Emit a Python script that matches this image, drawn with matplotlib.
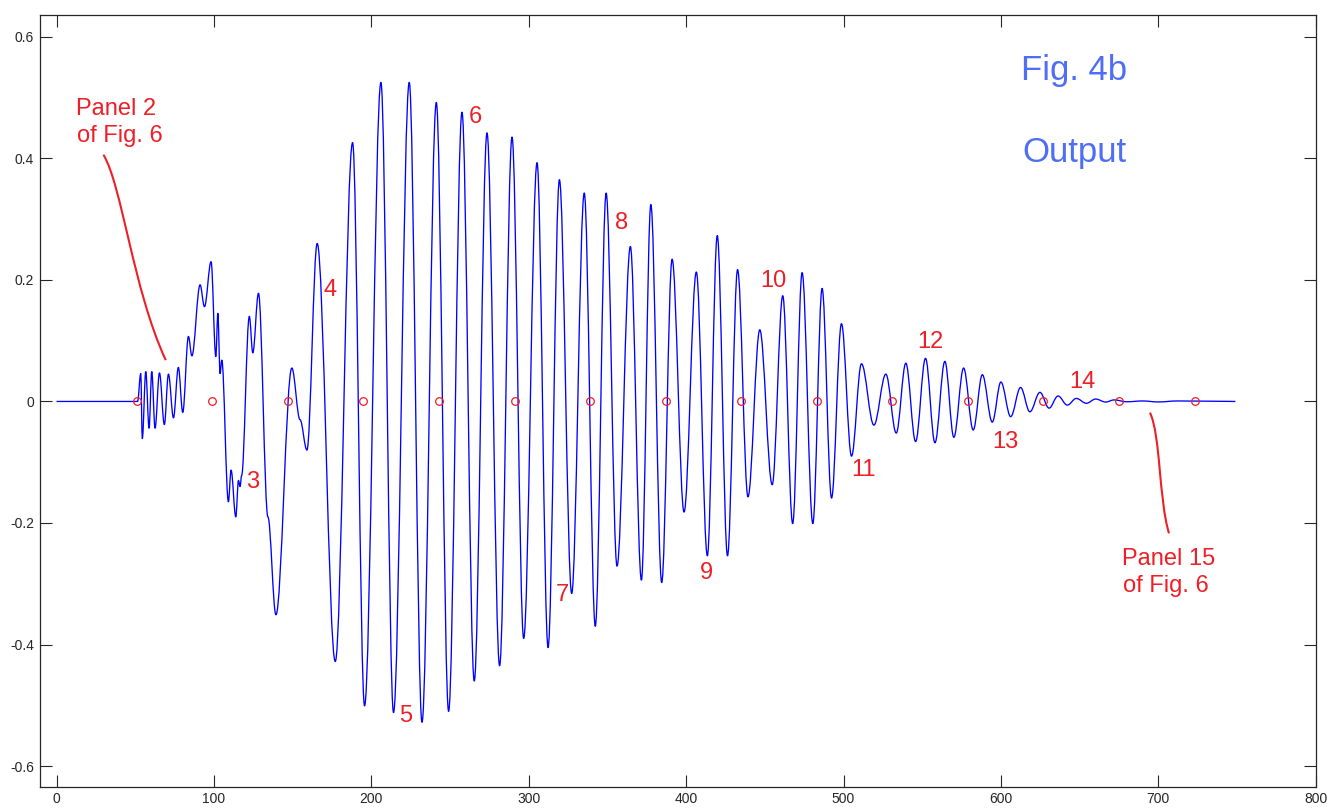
import matplotlib
matplotlib.use("Agg")
import matplotlib.pyplot as plt
from matplotlib.path import Path
from matplotlib.patches import PathPatch

plt.rcParams['font.family'] = ['Liberation Sans', 'DejaVu Sans']

# ---------------- data (turning points of the trace) ----------------
wave_x = [0, 51.5, 53.5, 54.5, 56.7, 58.8, 60.5, 62.6, 65.4, 68.5, 71.1, 74.3, 77.4, 80.2,
          83.8, 86.0, 91.2, 94.0, 98.2, 101.2, 102.5, 103.9, 105.0, 109.2, 110.9, 113.9,
          115.6, 116.6, 117.6, 122.5, 124.7, 128.3, 134.3, 139.4, 149.5, 154.7, 159.1,
          165.6, 177.1, 188.1, 195.7, 206.1, 214.1, 224.1, 232.2, 241.3, 249.1, 257.6,
          265.4, 273.5, 281.5, 289.4, 296.8, 305.3, 312.3, 319.5, 327.3, 335.3, 342.3,
          349.2, 356.1, 364.6, 371.6, 377.6, 384.5, 391.1, 398.7, 406.5, 413.5, 419.8,
          426.3, 432.7, 439.3, 446.8, 454.7, 461.4, 467.7, 473.7, 480.5, 486.4, 492.4,
          498.7, 505.1, 511.4, 519.3, 526.9, 533.5, 539.6, 545.8, 552.1, 558.1, 564.4,
          570.1, 576.3, 582.4, 588.2, 594.5, 600.0, 606.2, 612.5, 618.4, 624.8, 630.6,
          636.3, 642.2, 647.9, 654.3, 660.2, 666.6, 671.8, 680.0, 690.0, 700.0, 712.0,
          730.0, 749.0]
wave_y = [0, 0, 0.046, -0.061, 0.049, -0.044, 0.049, -0.044, 0.047, -0.038, 0.045, -0.027,
          0.056, -0.018, 0.107, 0.075, 0.192, 0.156, 0.230, 0.074, 0.145, 0.046, 0.068,
          -0.165, -0.113, -0.190, -0.130, -0.140, -0.122, 0.140, 0.080, 0.178, -0.190,
          -0.351, 0.055, -0.030, -0.080, 0.260, -0.428, 0.426, -0.501, 0.525, -0.512,
          0.525, -0.528, 0.492, -0.510, 0.476, -0.460, 0.442, -0.435, 0.435, -0.390,
          0.393, -0.405, 0.365, -0.316, 0.343, -0.370, 0.343, -0.271, 0.255, -0.294,
          0.324, -0.298, 0.234, -0.182, 0.213, -0.254, 0.273, -0.254, 0.217, -0.157,
          0.118, -0.137, 0.174, -0.201, 0.212, -0.201, 0.186, -0.159, 0.128, -0.090,
          0.062, -0.039, 0.045, -0.052, 0.063, -0.066, 0.071, -0.068, 0.066, -0.059,
          0.055, -0.047, 0.044, -0.034, 0.032, -0.025, 0.023, -0.017, 0.015, -0.011,
          0.009, -0.006, 0.005, -0.003, 0.004, -0.001, 0.0025, -0.0005, 0.0008, -0.0008,
          0.0008, 0.0005, 0.0]

panel_x = [51, 99, 147, 195, 243, 291, 339, 387, 435, 483, 531, 579, 627, 675, 723]
panel_y = [0] * len(panel_x)

panel_numbers = ['3', '4', '5', '6', '7', '8', '9', '10', '11', '12', '13', '14']

xticks = [0, 100, 200, 300, 400, 500, 600, 700, 800]
yticks = [-0.6, -0.4, -0.2, 0, 0.2, 0.4, 0.6]
ytick_labels = ['-0.6', '-0.4', '-0.2', '0', '0.2', '0.4', '0.6']

# ---------------- layout ----------------
W, H = 1330, 809
fig = plt.figure(figsize=(W / 100, H / 100), dpi=100)
ax = fig.add_axes([40 / W, 1 - 787.3 / H, (1315.7 - 40) / W, (787.3 - 15) / H])

RED = '#ee1f26'
BLUE_TXT = '#4d6ef5'
AX_COL = '#262626'

# trace: drawn as a smooth curve through the turning points (horizontal tangents there)
K = 0.36
verts = [(wave_x[0], wave_y[0])]
codes = [Path.MOVETO]
for (x0, y0), (x1, y1) in zip(zip(wave_x[:-1], wave_y[:-1]), zip(wave_x[1:], wave_y[1:])):
    dx = x1 - x0
    verts += [(x0 + K * dx, y0), (x1 - K * dx, y1), (x1, y1)]
    codes += [Path.CURVE4] * 3
ax.add_patch(PathPatch(Path(verts, codes), facecolor='none', edgecolor='#0000ff',
                       lw=0.95, joinstyle='round', zorder=3))

ax.plot(panel_x, panel_y, linestyle='none', marker='o', markersize=5.5,
        markerfacecolor='none', markeredgecolor=RED, markeredgewidth=0.9, zorder=4)

ax.set_xlim(-10.5, 800)
ax.set_ylim(-0.635, 0.636)
ax.set_xticks(xticks)
ax.set_xticklabels([str(v) for v in xticks])
ax.set_yticks(yticks)
ax.set_yticklabels(ytick_labels)
ax.tick_params(axis='both', direction='in', length=8.6, width=0.8, colors=AX_COL,
               top=True, right=True, labelsize=10)
ax.tick_params(axis='x', pad=3.5)
ax.tick_params(axis='y', pad=4.3)
for s in ax.spines.values():
    s.set_color(AX_COL)
    s.set_linewidth(0.9)

# number labels (baseline anchored, centred)
label_pos = [(124.5, -0.143), (173.9, 0.174), (222.0, -0.527), (266.2, 0.458),
             (321.2, -0.329), (359.3, 0.283), (412.9, -0.293), (455.7, 0.189),
             (512.9, -0.122), (555.3, 0.0887), (603.0, -0.0759), (651.7, 0.0217)]
for txt, (lx, ly) in zip(panel_numbers, label_pos):
    ax.text(lx, ly, txt, color=RED, fontsize=17, ha='center', va='baseline', zorder=5)

ax.text(12.5, 0.4716, 'Panel 2', color=RED, fontsize=17, ha='left', va='baseline')
ax.text(13.0, 0.4277, 'of Fig. 6', color=RED, fontsize=17, ha='left', va='baseline')
ax.text(677.0, -0.2691, 'Panel 15', color=RED, fontsize=17, ha='left', va='baseline')
ax.text(677.5, -0.3131, 'of Fig. 6', color=RED, fontsize=17, ha='left', va='baseline')

ax.text(612.7, 0.5292, 'Fig. 4b', color=BLUE_TXT, fontsize=25, ha='left', va='baseline')
ax.text(613.4, 0.3947, 'Output', color=BLUE_TXT, fontsize=25, ha='left', va='baseline')

# curved pointer lines
curves = [
    [(29.8, 0.406), (41.6, 0.356), (48.6, 0.184), (69.4, 0.068)],
    [(694.7, -0.0184), (701.5, -0.0551), (700.3, -0.162), (706.8, -0.217)],
]
for pts in curves:
    path = Path(pts, [Path.MOVETO, Path.CURVE4, Path.CURVE4, Path.CURVE4])
    ax.add_patch(PathPatch(path, facecolor='none', edgecolor=RED, lw=1.5, zorder=5))

fig.savefig('out.png', dpi=100)
